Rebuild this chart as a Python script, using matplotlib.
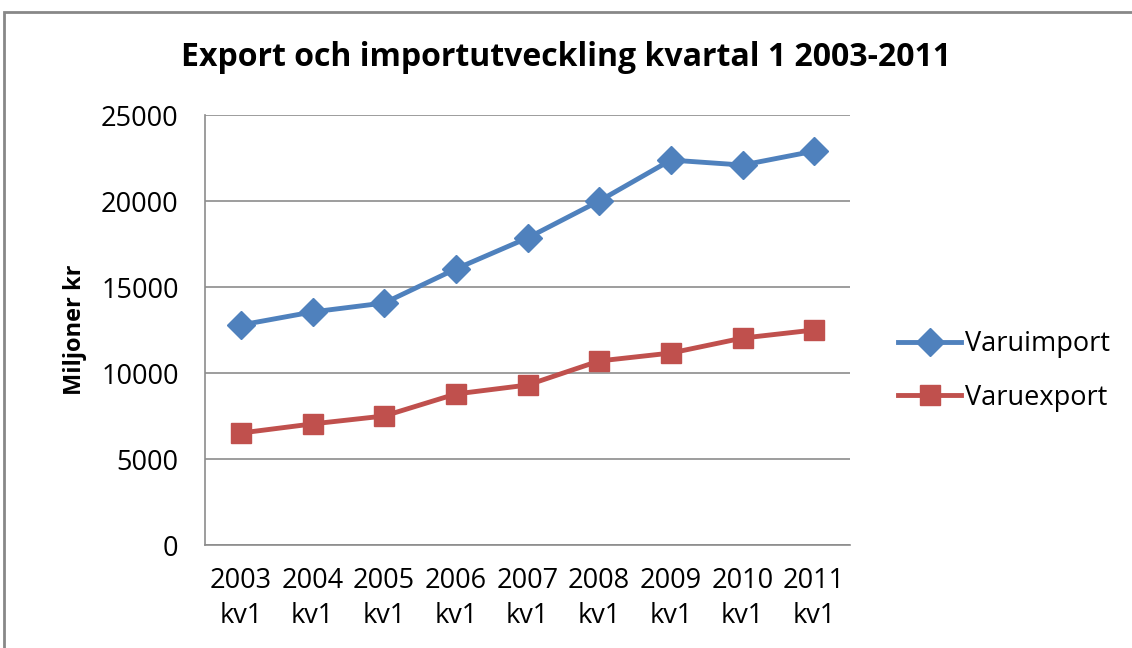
import matplotlib.pyplot as plt
from matplotlib.patches import Rectangle

# Data
categories = ['2003\nkv1', '2004\nkv1', '2005\nkv1', '2006\nkv1', '2007\nkv1',
              '2008\nkv1', '2009\nkv1', '2010\nkv1', '2011\nkv1']
varuimport = [12790, 13550, 14070, 16050, 17850, 20000, 22380, 22090, 22900]
varuexport = [6510, 7040, 7500, 8780, 9300, 10700, 11160, 12030, 12500]
yticks = [0, 5000, 10000, 15000, 20000, 25000]

plt.rcParams['font.family'] = ['Open Sans', 'DejaVu Sans']

fig = plt.figure(figsize=(11.32, 6.48), dpi=100)
ax = fig.add_axes([205 / 1132, 1 - 545 / 648, 645 / 1132, 430 / 648])

# outer chart frame
fig.patches.append(Rectangle((4 / 1132, -0.1), 1.2, 1 - 12 / 648 + 0.1,
                             transform=fig.transFigure, fill=False,
                             edgecolor='#888888', linewidth=2))

x = range(len(categories))
ax.plot(x, varuimport, color='#4F81BD', linewidth=3.5, marker='D',
        markersize=14, label='Varuimport')
ax.plot(x, varuexport, color='#C0504D', linewidth=3.5, marker='s',
        markersize=15, label='Varuexport')

ax.set_xlim(-0.5, len(categories) - 0.5)
ax.set_ylim(0, 25000)
ax.set_yticks(yticks)
ax.set_xticks(list(x))
ax.set_xticklabels(categories)
ax.yaxis.grid(True, color='#8c8c8c', linewidth=1.2)
ax.set_axisbelow(True)
for s in ['top', 'right']:
    ax.spines[s].set_visible(False)
for s in ['left', 'bottom']:
    ax.spines[s].set_color('#8c8c8c')
    ax.spines[s].set_linewidth(1.2)
ax.tick_params(axis='both', labelsize=19.5, length=0, colors='black')
ax.tick_params(axis='y', pad=19)
ax.tick_params(axis='x', pad=16)
for lbl in ax.get_xticklabels():
    lbl.set_linespacing(1.3)

ax.set_ylabel('Miljoner kr', fontsize=17, fontweight='bold', labelpad=10)
fig.text(0.5, 1 - 58 / 648, 'Export och importutveckling kvartal 1 2003-2011',
         ha='center', va='center', fontsize=23, fontweight='bold')

ax.legend(loc='center left', bbox_to_anchor=(874 / 1132, 1 - 371 / 648),
          bbox_transform=fig.transFigure, frameon=False, fontsize=19.5,
          handlelength=2.3, labelspacing=0.95, handletextpad=0.15)

fig.savefig('out.png', dpi=100, facecolor='white')
